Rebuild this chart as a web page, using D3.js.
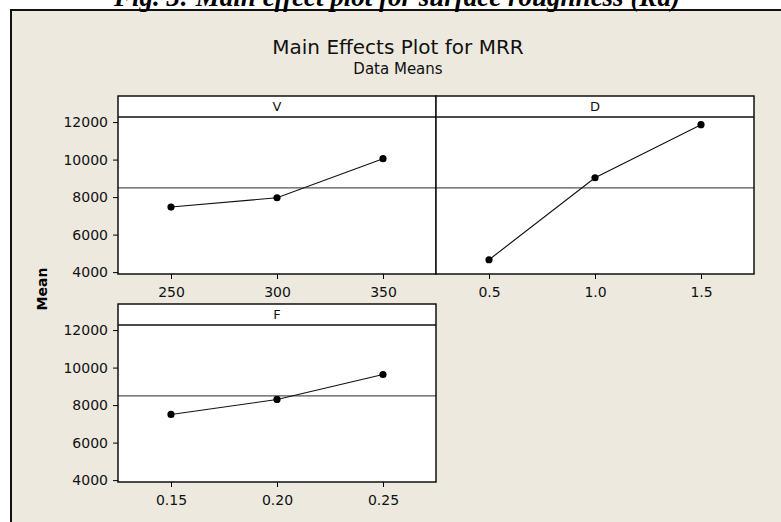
<!DOCTYPE html>
<html>
<head>
  <meta charset="utf-8">
  <title>Main Effects Plot for MRR</title>
  <script src="https://d3js.org/d3.v7.min.js"></script>
  <style>
    body { margin: 0; background: #ffffff; }
    svg { display: block; }
    .tick text { font-family: "DejaVu Sans", sans-serif; font-size: 14px; fill: #111; }
  </style>
</head>
<body>
  <svg id="chart" width="781" height="522"></svg>

  <script>
    // factor names and their levels
    const factors = ["V", "D", "F"];
    const vLevels = [250, 300, 350];
    const dLevels = [0.5, 1.0, 1.5];
    const fLevels = [0.15, 0.20, 0.25];

    // data means for MRR at each level
    const vMeans = [7470, 7965, 10050];
    const dMeans = [4660, 9030, 11860];
    const fMeans = [7500, 8300, 9630];
    const grandMean = 8490;

    const yTicks = [4000, 6000, 8000, 10000, 12000];
    const vTicks = [250, 300, 350];
    const dTicks = [0.5, 1.0, 1.5];
    const fTicks = [0.15, 0.20, 0.25];

    const svg = d3.select("svg#chart");
    const width = +svg.attr("width");
    const height = +svg.attr("height");

    // beige minitab frame, cut off at the right and bottom
    svg.append("rect")
      .attr("x", 11).attr("y", 10)
      .attr("width", width).attr("height", height)
      .attr("fill", "#ede9df")
      .attr("stroke", "#111")
      .attr("stroke-width", 2);

    // the figure caption of the paper, mostly cropped
    svg.append("text")
      .attr("x", 397).attr("y", 6)
      .attr("text-anchor", "middle")
      .style("font-family", "'Liberation Serif', 'DejaVu Serif', serif")
      .style("font-weight", "bold")
      .style("font-style", "italic")
      .style("font-size", "27px")
      .text("Fig. 3: Main effect plot for surface roughness (Ra)");

    svg.append("text")
      .attr("x", 398).attr("y", 54)
      .attr("text-anchor", "middle")
      .style("font-family", "'DejaVu Sans', sans-serif")
      .style("font-size", "20px")
      .style("fill", "#111")
      .text("Main Effects Plot for MRR");

    svg.append("text")
      .attr("x", 398).attr("y", 74)
      .attr("text-anchor", "middle")
      .style("font-family", "'DejaVu Sans', sans-serif")
      .style("font-size", "15px")
      .style("fill", "#111")
      .text("Data Means");

    // y label shared by the panels
    svg.append("text")
      .attr("transform", "translate(47,289) rotate(-90)")
      .attr("text-anchor", "middle")
      .style("font-family", "'DejaVu Sans', sans-serif")
      .style("font-weight", "bold")
      .style("font-size", "14px")
      .text("Mean");

    const panelW = 318;
    const panelH = 178;
    const stripH = 21;

    const yScale = d3.scaleLinear()
      .domain([3900, 12270])
      .range([panelH, stripH]);

    const panels = [
      { name: factors[0], levels: vLevels, means: vMeans, ticks: vTicks, domain: [225, 375], fmt: d3.format("d"), x: 118, y: 96, leftAxis: true },
      { name: factors[1], levels: dLevels, means: dMeans, ticks: dTicks, domain: [0.25, 1.75], fmt: d3.format(".1f"), x: 436, y: 96, leftAxis: false },
      { name: factors[2], levels: fLevels, means: fMeans, ticks: fTicks, domain: [0.125, 0.275], fmt: d3.format(".2f"), x: 118, y: 304, leftAxis: true }
    ];

    panels.forEach(p => {
      const g = svg.append("g")
        .attr("transform", `translate(${p.x},${p.y})`);

      const xScale = d3.scaleLinear()
        .domain(p.domain)
        .range([0, panelW]);

      g.append("rect")
        .attr("width", panelW).attr("height", panelH)
        .attr("fill", "#ffffff");

      // grand mean reference line
      g.append("line")
        .attr("x1", 0).attr("x2", panelW)
        .attr("y1", yScale(grandMean)).attr("y2", yScale(grandMean))
        .attr("stroke", "#555")
        .attr("stroke-width", 1.2);

      const pts = p.levels.map((l, i) => ({ lvl: l, val: p.means[i] }));

      const line = d3.line()
        .x(d => xScale(d.lvl))
        .y(d => yScale(d.val));

      g.append("path")
        .attr("d", line(pts))
        .attr("fill", "none")
        .attr("stroke", "#111")
        .attr("stroke-width", 1.1);

      g.selectAll("circle")
        .data(pts)
        .join("circle")
        .attr("cx", d => xScale(d.lvl))
        .attr("cy", d => yScale(d.val))
        .attr("r", 3.6)
        .attr("fill", "#000");

      // strip with the factor name
      g.append("line")
        .attr("x1", 0).attr("x2", panelW)
        .attr("y1", stripH).attr("y2", stripH)
        .attr("stroke", "#111")
        .attr("stroke-width", 1.5);
      g.append("text")
        .attr("x", panelW / 2).attr("y", 15)
        .attr("text-anchor", "middle")
        .style("font-family", "'DejaVu Sans', sans-serif")
        .style("font-size", "13px")
        .style("fill", "#111")
        .text(p.name);

      g.append("rect")
        .attr("width", panelW).attr("height", panelH)
        .attr("fill", "none")
        .attr("stroke", "#111")
        .attr("stroke-width", 1.5);

      const bottomAxis = d3.axisBottom(xScale)
        .tickValues(p.ticks)
        .tickFormat(p.fmt)
        .tickSize(5)
        .tickPadding(8);
      g.append("g")
        .attr("transform", `translate(0,${panelH})`)
        .call(bottomAxis)
        .call(a => a.select(".domain").remove());

      if (p.leftAxis) {
        const leftAxis = d3.axisLeft(yScale)
          .tickValues(yTicks)
          .tickFormat(d3.format("d"))
          .tickSize(5)
          .tickPadding(5);
        g.append("g")
          .call(leftAxis)
          .call(a => a.select(".domain").remove());
      }
    });
  </script>
</body>
</html>
